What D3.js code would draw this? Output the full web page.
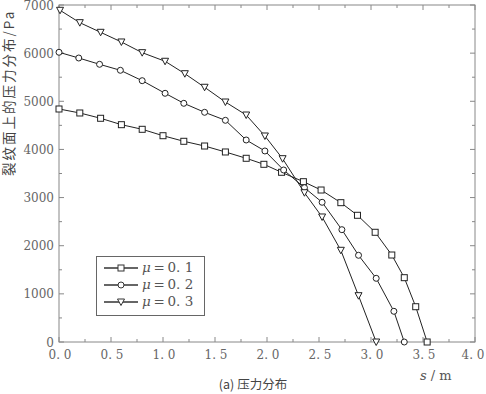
<!DOCTYPE html>
<html>
<head>
<meta charset="utf-8">
<title>压力分布</title>
<script src="https://cdn.jsdelivr.net/npm/d3@7"></script>
<style>
    body { margin: 0; background: #fff; }
    svg text { font-family: "DejaVu Serif", "Liberation Serif", serif; }
    svg text.tick-label { fill: #666; font-size: 12px; }
    svg text.cjk { font-family: "Noto Sans CJK SC", sans-serif; fill: #444; }
</style>
</head>
<body>
<script>
    var sMu1 = [0, 0.2, 0.4, 0.6, 0.8, 1.0, 1.2, 1.4, 1.6, 1.8, 1.97, 2.14, 2.35, 2.52, 2.71, 2.87, 3.04, 3.2, 3.32, 3.43, 3.54];
    var pMu1 = [4840, 4757, 4647, 4514, 4418, 4285, 4169, 4071, 3947, 3816, 3691, 3525, 3330, 3157, 2894, 2632, 2279, 1807, 1336, 733, 0];
    var sMu2 = [0, 0.19, 0.39, 0.59, 0.8, 1.02, 1.2, 1.4, 1.6, 1.8, 1.98, 2.16, 2.36, 2.53, 2.72, 2.88, 3.05, 3.22, 3.32];
    var pMu2 = [6018, 5899, 5768, 5644, 5428, 5166, 4958, 4771, 4605, 4196, 3968, 3573, 3205, 2902, 2333, 1801, 1323, 638, 0];
    var sMu3 = [0.01, 0.2, 0.4, 0.6, 0.8, 1.02, 1.21, 1.4, 1.6, 1.8, 1.98, 2.15, 2.36, 2.53, 2.71, 2.88, 3.05];
    var pMu3 = [6890, 6633, 6433, 6232, 6010, 5831, 5573, 5291, 4985, 4715, 4279, 3808, 3101, 2597, 1905, 962, 0];

    var seriesNames = ["0. 1", "0. 2", "0. 3"];
    var seriesSymbols = ["square", "circle", "triangle"];
    var xTicks = [0, 0.5, 1, 1.5, 2, 2.5, 3, 3.5, 4];
    var yTicks = [0, 1000, 2000, 3000, 4000, 5000, 6000, 7000];

    var width = 486, height = 394;
    var mLeft = 59, mRight = 475, mTop = 5, mBottom = 342;

    var svg = d3.select("body").append("svg")
            .attr("width", width)
            .attr("height", height);

    var x = d3.scaleLinear().domain([0, 4]).range([mLeft, mRight]);
    var y = d3.scaleLinear().domain([0, 7000]).range([mBottom, mTop]);

    // frame
    svg.append("rect")
            .attr("x", mLeft).attr("y", mTop)
            .attr("width", mRight - mLeft).attr("height", mBottom - mTop)
            .attr("fill", "none").attr("stroke", "#888").attr("stroke-width", 1);

    // inward ticks on all four sides
    var xMinor = d3.range(0, 4.01, 0.25), yMinor = d3.range(0, 7001, 500);
    var tickG = svg.append("g").attr("stroke", "#888").attr("stroke-width", 1);
    xMinor.forEach(function (v) {
        var len = (v % 0.5 === 0) ? 5 : 3;
        tickG.append("line").attr("x1", x(v)).attr("x2", x(v)).attr("y1", mBottom).attr("y2", mBottom - len);
        tickG.append("line").attr("x1", x(v)).attr("x2", x(v)).attr("y1", mTop).attr("y2", mTop + len);
    });
    yMinor.forEach(function (v) {
        var len = (v % 1000 === 0) ? 5 : 3;
        tickG.append("line").attr("y1", y(v)).attr("y2", y(v)).attr("x1", mLeft).attr("x2", mLeft + len);
        tickG.append("line").attr("y1", y(v)).attr("y2", y(v)).attr("x1", mRight).attr("x2", mRight - len);
    });

    svg.selectAll("text.xt").data(xTicks).enter().append("text")
            .attr("class", "tick-label xt")
            .attr("x", function (d) { return d === 4 ? x(d) - 2 : x(d) + 1; })
            .attr("y", mBottom + 17)
            .attr("text-anchor", "middle")
            .text(function (d) { return d.toFixed(1).replace(".", ". "); });

    svg.selectAll("text.yt").data(yTicks).enter().append("text")
            .attr("class", "tick-label yt")
            .attr("x", mLeft - 5)
            .attr("y", function (d) { return y(d) + 4.5; })
            .attr("text-anchor", "end")
            .text(function (d) { return d; });

    // axis titles
    svg.append("text")
            .attr("class", "cjk")
            .attr("transform", "translate(14,176) rotate(-90)")
            .attr("font-size", 13.5)
            .attr("letter-spacing", 2)
            .text("裂纹面上的压力分布/Pa");

    svg.append("text")
            .attr("x", 420).attr("y", 380)
            .attr("font-size", 13).attr("fill", "#555")
            .html('<tspan font-style="italic">s</tspan> / m');

    svg.append("text")
            .attr("class", "cjk")
            .attr("x", 253).attr("y", 389)
            .attr("text-anchor", "middle")
            .attr("font-size", 12.5)
            .text("(a) 压力分布");

    // series
    var data = [
        d3.zip(sMu1, pMu1),
        d3.zip(sMu2, pMu2),
        d3.zip(sMu3, pMu3)
    ];

    var line = d3.line()
            .x(function (d) { return x(d[0]); })
            .y(function (d) { return y(d[1]); });

    function marker(g, kind, cx, cy) {
        if (kind === "square") {
            g.append("rect").attr("x", cx - 3).attr("y", cy - 3).attr("width", 6).attr("height", 6);
        } else if (kind === "circle") {
            g.append("circle").attr("cx", cx).attr("cy", cy).attr("r", 3);
        } else {
            g.append("path").attr("d", "M" + (cx - 3.5) + "," + (cy - 3) + "L" + (cx + 3.5) + "," + (cy - 3) + "L" + cx + "," + (cy + 3.5) + "Z");
        }
    }

    data.forEach(function (pts, i) {
        svg.append("path")
                .attr("d", line(pts))
                .attr("fill", "none")
                .attr("stroke", "#222")
                .attr("stroke-width", 1);
        var g = svg.append("g").attr("fill", "#fff").attr("stroke", "#222").attr("stroke-width", 1);
        pts.forEach(function (p) { marker(g, seriesSymbols[i], x(p[0]), y(p[1])); });
    });

    // legend
    var legend = svg.append("g");
    legend.append("rect")
            .attr("x", 96.5).attr("y", 256.5).attr("width", 108).attr("height", 59)
            .attr("fill", "#fff").attr("stroke", "#666").attr("stroke-width", 1);
    seriesNames.forEach(function (name, i) {
        var ly = 268 + i * 17;
        legend.append("line")
                .attr("x1", 104).attr("x2", 138).attr("y1", ly).attr("y2", ly)
                .attr("stroke", "#333").attr("stroke-width", 1.3);
        var g = legend.append("g").attr("fill", "#fff").attr("stroke", "#333").attr("stroke-width", 1);
        marker(g, seriesSymbols[i], 121, ly);
        legend.append("text")
                .attr("x", 142).attr("y", ly + 4)
                .attr("font-size", 13.5).attr("fill", "#555")
                .html('<tspan font-style="italic">\u03bc</tspan>\u2009=\u2009' + name);
    });
</script>
</body>
</html>
